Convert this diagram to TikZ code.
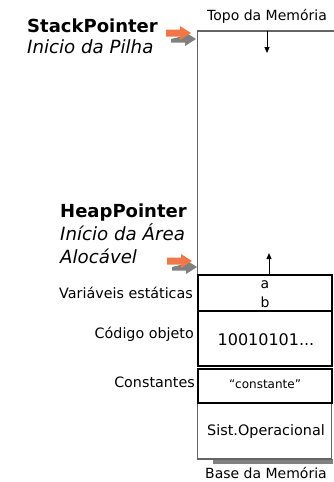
\documentclass[tikz,border=0pt]{standalone}
\usepackage{fontspec}
\setmainfont{DejaVu Sans}
\usetikzlibrary{arrows.meta}
\definecolor{arrorange}{RGB}{240,120,72}
\definecolor{arrgray}{RGB}{128,128,128}
\definecolor{boxgray}{RGB}{100,100,100}
\begin{document}
\begin{tikzpicture}[x=1pt,y=-1pt,
  txt/.style={inner sep=0pt},
  small/.style={txt,font=\fontsize{14}{16}\selectfont},
  mid/.style={txt,font=\fontsize{14.3}{17}\selectfont},
  bigb/.style={txt,font=\fontsize{18}{21}\bfseries\selectfont},
  bigi/.style={txt,font=\fontsize{18.2}{21}\itshape\selectfont},
  blk/.style={draw=black,line width=2pt},
  gbox/.style={draw=boxgray,line width=1.5pt},
  ptr/.style={-{Triangle[length=6pt,width=5pt]},line width=1pt},
  blockarrow/.pic={
    \fill[arrgray] (5,6) -- ++(14,-3.5) -- ++(0,-3.5) -- ++(11,7) -- ++(-11,7) -- ++(0,-3.5) -- ++(-14,0) -- cycle;
    \fill[arrorange] (0,-3.5) -- (14,-3.5) -- (14,-7) -- (25,0) -- (14,7) -- (14,3.5) -- (0,3.5) -- cycle;
  }]
\useasboundingbox (0,0) rectangle (333,482);
\fill[white] (0,0) rectangle (333,482);

% big box (stack/heap area)
\draw[gbox] (340,31) -- (197.5,31) -- (197.5,273.5);
\coordinate (stacktop) at (267,31);
\coordinate (stackend) at (267,53);
\coordinate (heapbase) at (269,274);
\coordinate (heapend) at (269,253);
\draw[ptr] (stacktop) -- (stackend);
\draw[ptr] (heapbase) -- (heapend);

% shadow bar
\fill[arrgray] (212.5,459) rectangle (333,464);

% lower boxes
\draw[gbox] (197.5,403) -- (197.5,459) -- (331.5,459) -- (331.5,403);
\draw[blk] (197.5,274.5) rectangle (331.5,311);
\draw[blk] (197.5,311) rectangle (331.5,366);
\draw[blk] (197.5,368.5) rectangle (331.5,403);

% block arrows
\pic at (166,33) {blockarrow};
\pic at (167,261) {blockarrow};

% texts
\node[small,anchor=base] (topo) at (267,20) {Topo da Memória};
\node[bigb,anchor=base west] (sp) at (27,32) {StackPointer};
\node[bigi,anchor=base west] (sp2) at (27,53) {Inicio da Pilha};
\node[bigb,anchor=base west] (hp) at (60,217) {HeapPointer};
\node[bigi,anchor=base west] (hp2) at (60,240) {Início da Área};
\node[bigi,anchor=base west] (hp3) at (60,263) {Alocável};

\node[mid,anchor=base east] (lv) at (193,298) {Variáveis estáticas};
\node[mid,anchor=base east] (lc) at (194,338) {Código objeto};
\node[mid,anchor=base east] (lk) at (195,387) {Constantes};

\node[small,anchor=base] (va) at (265,288) {a};
\node[small,anchor=base] (vb) at (265,307) {b};
\node[txt,anchor=base,font=\fontsize{16}{19}\selectfont] (code) at (266,345) {10010101...};
\node[txt,anchor=base,font=\fontsize{12}{14}\selectfont] (konst) at (265,388) {“constante”};
\node[txt,anchor=base,font=\fontsize{14.4}{17}\selectfont] (so) at (266,435) {Sist.Operacional};
\node[small,anchor=base] (base) at (266,478) {Base da Memória};
\end{tikzpicture}
\end{document}
